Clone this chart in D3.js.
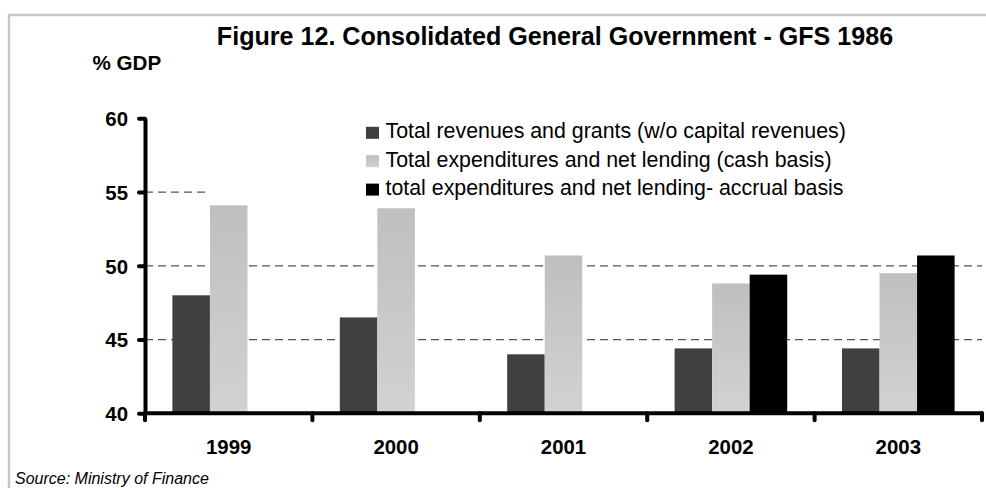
<!DOCTYPE html>
<html>
<head>
<meta charset="utf-8">
<script src="https://cdn.jsdelivr.net/npm/d3@7"></script>
<style>
  html, body { margin: 0; padding: 0; background: #fff; }
  svg { display: block; font-family: "Liberation Sans", Arial, Helvetica, sans-serif; }
</style>
</head>
<body>
<svg id="chart" width="986" height="488"></svg>
<script>
// Consolidated general government, % of GDP
const years = ["1999", "2000", "2001", "2002", "2003"];
const seriesNames = [
  "Total revenues and grants (w/o capital revenues)",
  "Total expenditures and net lending (cash basis)",
  "total expenditures and net lending- accrual basis"
];
const revenues = [48.0, 46.5, 44.0, 44.4, 44.4];
const expendituresCash = [54.1, 53.9, 50.7, 48.8, 49.5];
const expendituresAccrual = [null, null, null, 49.4, 50.7];
const yTicks = [40, 45, 50, 55, 60];
const gridValues = [45, 50, 55];

const seriesValues = [revenues, expendituresCash, expendituresAccrual];
const seriesFills = ["#404040", "url(#lightFill)", "#000000"];

const svg = d3.select("#chart");

// gradient for the light grey series
const defs = svg.append("defs");
const grad = defs.append("linearGradient")
  .attr("id", "lightFill").attr("x1", 0).attr("y1", 0).attr("x2", 0).attr("y2", 1);
grad.append("stop").attr("offset", "0%").attr("stop-color", "#bfbfbf");
grad.append("stop").attr("offset", "100%").attr("stop-color", "#d2d2d2");

// outer frame (top and left edges visible)
svg.append("path")
  .attr("d", "M9,488 L9,15 L986,15")
  .attr("fill", "none")
  .attr("stroke", "#c6c6c6")
  .attr("stroke-width", 2.5);

const plot = { left: 145, right: 982, top: 118.3, bottom: 413.3 };

const x = d3.scaleBand().domain(years).range([plot.left, plot.right]).paddingInner(0).paddingOuter(0);
const xs = d3.scaleBand().domain(d3.range(seriesNames.length)).range([0, x.bandwidth()])
  .paddingInner(0).paddingOuter(0.73);
const y = d3.scaleLinear().domain([40, 60]).range([plot.bottom, plot.top]);

// gridlines
svg.append("g").selectAll("line")
  .data(gridValues).join("line")
  .attr("x1", plot.left).attr("x2", plot.right)
  .attr("y1", d => y(d)).attr("y2", d => y(d))
  .attr("stroke", "#555")
  .attr("stroke-width", 1.2)
  .attr("stroke-dasharray", "8,5");

// bars
const rows = [];
years.forEach((yr, i) => {
  seriesValues.forEach((vals, s) => {
    if (vals[i] != null) rows.push({ year: yr, s, v: vals[i] });
  });
});
svg.append("g").selectAll("rect")
  .data(rows).join("rect")
  .attr("x", d => x(d.year) + xs(d.s))
  .attr("width", xs.bandwidth())
  .attr("y", d => y(d.v))
  .attr("height", d => y(40) - y(d.v))
  .attr("fill", d => seriesFills[d.s]);

// legend (white box over the plot area)
const legend = svg.append("g");
legend.append("rect")
  .attr("x", 208).attr("y", 108).attr("width", 776).attr("height", 92)
  .attr("fill", "#fff");
const legendRows = legend.selectAll("g.item")
  .data(seriesNames).join("g").attr("class", "item")
  .attr("transform", (d, i) => `translate(366, ${138.3 + i * 28.4})`);
legendRows.append("rect")
  .attr("x", 0).attr("y", -11.5).attr("width", 13).attr("height", 12)
  .attr("fill", (d, i) => seriesFills[i]);
legendRows.append("text")
  .attr("x", 19.5).attr("y", 0)
  .attr("font-size", 21.35)
  .attr("fill", "#000")
  .text(d => d);

// y axis
const yAxis = d3.axisLeft(y).tickValues(yTicks).tickSize(6).tickSizeOuter(0).tickPadding(11);
const gy = svg.append("g").attr("transform", `translate(${plot.left},0)`).call(yAxis);
gy.select(".domain").attr("stroke", "#000").attr("stroke-width", 4);
gy.selectAll(".tick line").attr("stroke", "#000").attr("stroke-width", 4).attr("stroke-linecap", "round");
gy.selectAll(".tick text")
  .attr("font-family", "Liberation Sans, Arial, sans-serif")
  .attr("font-size", 20.4).attr("font-weight", "bold").attr("fill", "#000")
  .attr("dy", "0.36em");

// x axis: line plus tick marks at category boundaries
const gx = svg.append("g");
gx.append("line")
  .attr("x1", plot.left).attr("x2", plot.right)
  .attr("y1", plot.bottom).attr("y2", plot.bottom)
  .attr("stroke", "#000").attr("stroke-width", 4).attr("stroke-linecap", "round");
const boundaries = years.map(d => x(d)).concat([x(years[years.length - 1]) + x.bandwidth()]);
gx.selectAll("line.tk")
  .data(boundaries).join("line").attr("class", "tk")
  .attr("x1", d => d).attr("x2", d => d)
  .attr("y1", plot.bottom).attr("y2", plot.bottom + 7)
  .attr("stroke", "#000").attr("stroke-width", 4).attr("stroke-linecap", "round");
gx.selectAll("text")
  .data(years).join("text")
  .attr("x", d => x(d) + x.bandwidth() / 2)
  .attr("y", 453.5)
  .attr("text-anchor", "middle")
  .attr("font-size", 20.4).attr("font-weight", "bold").attr("fill", "#000")
  .text(d => d);

// title, unit label, source
svg.append("text")
  .attr("x", 555).attr("y", 45)
  .attr("text-anchor", "middle")
  .attr("font-size", 25.1).attr("font-weight", "bold").attr("fill", "#000")
  .text("Figure 12. Consolidated General Government - GFS 1986");
svg.append("text")
  .attr("x", 92.5).attr("y", 70)
  .attr("font-size", 20.6).attr("font-weight", "bold").attr("fill", "#000")
  .text("% GDP");
svg.append("text")
  .attr("x", 15).attr("y", 484)
  .attr("font-size", 16).attr("font-style", "italic").attr("fill", "#000")
  .text("Source: Ministry of Finance");
</script>
</body>
</html>
